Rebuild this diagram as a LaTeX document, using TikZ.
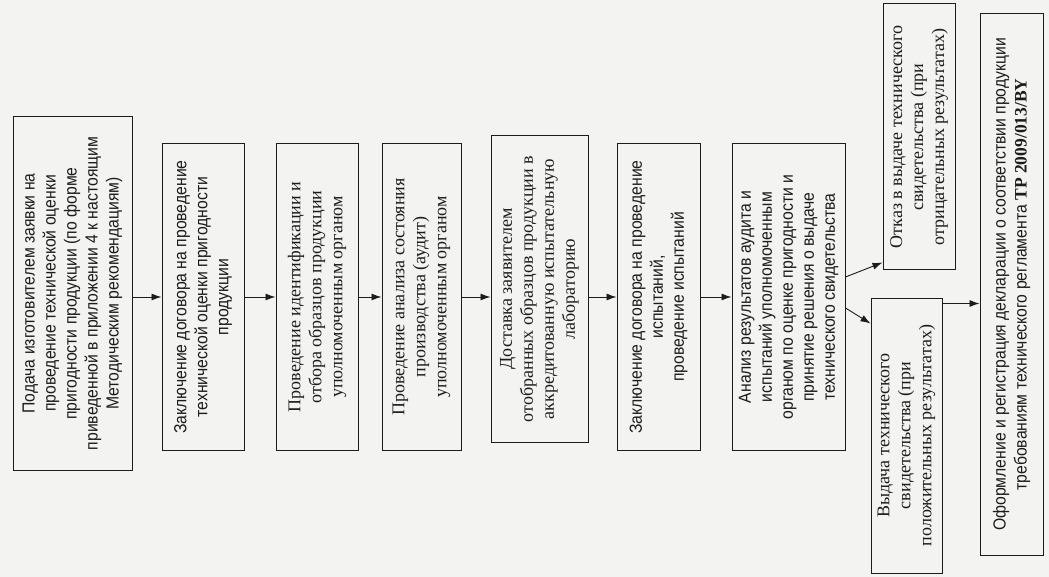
\documentclass[tikz,border=0pt]{standalone}
\usepackage{fontspec}
\setmainfont{Liberation Serif}
\newfontfamily\boxsans[FakeStretch=0.9]{Liberation Sans}
\usetikzlibrary{arrows.meta}
\tikzset{>={Latex[length=10pt,width=7pt]}}
\definecolor{paper}{RGB}{243,243,241}
\definecolor{ink}{RGB}{28,28,28}
\tikzset{
  stage/.style = {draw=ink, line width=1pt, rotate=90, align=center, inner sep=2pt, text=ink},
  sansstage/.style = {stage, font=\boxsans\fontsize{17.5}{21}\selectfont},
  serifstage/.style = {stage, font=\fontsize{18}{21}\selectfont},
  flow/.style = {->, draw=ink, line width=0.9pt}
}

\begin{document}
\begin{tikzpicture}[x=1pt, y=-1pt]
\useasboundingbox (0,0) rectangle (1049,577);
\fill[paper] (0,0) rectangle (1049,577);

% stages of the procedure
\node[sansstage, minimum width=353pt, minimum height=119pt] (podacha) at (72.5,293.5)
  {Подача изготовителем заявки на\\ проведение технической оценки\\ пригодности продукции (по форме\\ приведенной в приложении 4 к настоящим\\ Методическим рекомендациям)};
\node[sansstage, minimum width=306pt, minimum height=82pt] (dogovor) at (203,297)
  {Заключение договора на проведение\\ технической оценки пригодности\\ продукции};
\node[serifstage, minimum width=306pt, minimum height=82pt] (ident) at (317,297)
  {Проведение идентификации и\\ отбора образцов продукции\\ уполномоченным органом};
\node[serifstage, minimum width=306pt, minimum height=79pt] (audit) at (421.5,297)
  {Проведение анализа состояния\\ производства (аудит)\\ уполномоченным органом};
\node[serifstage, minimum width=306pt, minimum height=97pt] (dostavka) at (539.5,289)
  {Доставка заявителем\\ отобранных образцов продукции в\\ аккредитованную испытательную\\ лабораторию};
\node[sansstage, minimum width=306pt, minimum height=83pt] (ispyt) at (658.5,297)
  {Заключение договора на проведение\\ испытаний,\\ проведение испытаний};
\node[sansstage, minimum width=306pt, minimum height=113pt] (analiz) at (788.5,297)
  {Анализ результатов аудита и\\ испытаний уполномоченным\\ органом по оценке пригодности и\\ принятие решения о выдаче\\ технического свидетельства};

% outcomes
\node[serifstage, minimum width=275pt, minimum height=71pt] (vydacha) at (906.5,435.5)
  {Выдача технического\\ свидетельства (при\\ положительных результатах)};
\node[serifstage, minimum width=266pt, minimum height=72pt] (otkaz) at (919,137)
  {Отказ в выдаче технического\\ свидетельства (при\\ отрицательных результатах)};
\node[sansstage, minimum width=541pt, minimum height=63pt] (oformlenie) at (1011.5,284.5)
  {Оформление и регистрация декларации о соответствии продукции\\ требованиям технического регламента {\rmfamily\bfseries ТР 2009/013/BY}};

% arrows
\draw[flow] (podacha.south |- dogovor.north) -- (dogovor.north);
\draw[flow] (dogovor.south) -- (ident.north);
\draw[flow] (ident.south) -- (audit.north);
\draw[flow] (audit.south) -- (audit.south -| dostavka.north);
\draw[flow] (dostavka.south |- ispyt.north) -- (ispyt.north);
\draw[flow] (ispyt.south) -- (analiz.north);
\draw[flow] ([yshift=20pt]analiz.south) -- ([yshift=8pt]otkaz.north west);
\draw[flow] ([yshift=-11pt]analiz.south) -- ([yshift=-26pt]vydacha.north east);
\coordinate (vy) at ([yshift=-6pt]vydacha.south east);
\draw[flow] (vy) -- (vy -| oformlenie.north);
\end{tikzpicture}
\end{document}
